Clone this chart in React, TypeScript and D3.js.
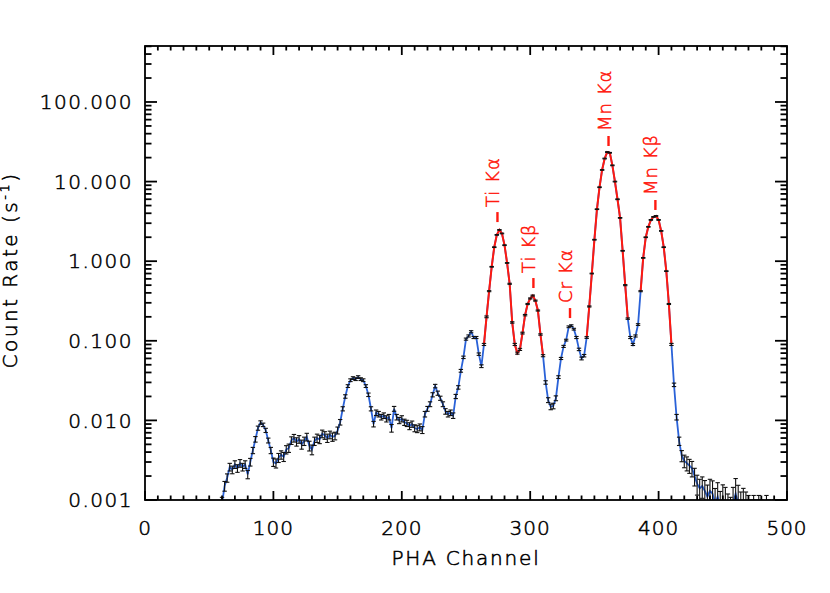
import React from "react";
import * as d3 from "d3";

// ---------- data ----------
const channelStart = 60;
const channelStep = 2;

// count rate (s^-1) per bin, channels 60..490 step 2
const rates = [
  // 60-98
  0.0009, 0.0015, 0.0019, 0.0026, 0.0024, 0.0028, 0.0025, 0.0029, 0.0026, 0.0028,
  0.0021, 0.0030, 0.0042, 0.0058, 0.0080, 0.0094, 0.0088, 0.0075, 0.0056, 0.0042,
  // 100-138
  0.0030, 0.0029, 0.0034, 0.0037, 0.0035, 0.0043, 0.0045, 0.0056, 0.0060, 0.0054,
  0.0058, 0.0050, 0.0055, 0.0062, 0.0048, 0.0043, 0.0055, 0.0060, 0.0058, 0.0068,
  // 140-178
  0.0065, 0.0060, 0.0066, 0.0062, 0.0064, 0.0075, 0.0095, 0.0140, 0.0200, 0.0270,
  0.0320, 0.0340, 0.0330, 0.0350, 0.0330, 0.0320, 0.0270, 0.0210, 0.0140, 0.0090,
  // 180-218
  0.0125, 0.0120, 0.0110, 0.0115, 0.0105, 0.0110, 0.0080, 0.0140, 0.0110, 0.0100,
  0.0105, 0.0095, 0.0092, 0.0085, 0.0090, 0.0080, 0.0078, 0.0082, 0.0076, 0.0120,
  // 220-258
  0.0140, 0.0160, 0.0210, 0.0270, 0.0220, 0.0190, 0.0160, 0.0130, 0.0120, 0.0125,
  0.0115, 0.0200, 0.0260, 0.0420, 0.0620, 0.1050, 0.1150, 0.1300, 0.1100, 0.1100,
  // 260-298
  0.0680, 0.0480, 0.0900, 0.2000, 0.4200, 0.8500, 1.5000, 2.1400, 2.4700, 2.2300,
  1.5900, 0.9500, 0.5200, 0.1700, 0.0900, 0.0700, 0.0780, 0.1250, 0.2100, 0.2900,
  // 300-338
  0.3400, 0.3700, 0.3200, 0.2400, 0.1200, 0.0650, 0.0300, 0.0180, 0.0148, 0.0152,
  0.0190, 0.0350, 0.0600, 0.0850, 0.1020, 0.1500, 0.1550, 0.1400, 0.1100, 0.0780,
  // 340-378
  0.0600, 0.0650, 0.1100, 0.2700, 0.7000, 1.8600, 4.5000, 8.5000, 14.000, 19.500,
  23.500, 23.000, 16.000, 10.000, 6.0000, 3.5000, 1.3500, 0.5000, 0.1900, 0.1100,
  // 380-418
  0.0900, 0.1150, 0.1600, 0.4200, 1.1000, 2.0000, 2.7000, 3.3000, 3.6000, 3.7000,
  3.3000, 2.4000, 1.5000, 0.7500, 0.2900, 0.0900, 0.0280, 0.0110, 0.0055, 0.0036,
  // 420-458
  0.0031, 0.0029, 0.0027, 0.0025, 0.0020, 0.0016, 0.0014, 0.0015, 0.0013, 0.0011,
  0.0013, 0.0012, 0.0009, 0.0011, 0.0008, 0.0010, 0.0009, 0.0007, 0.0006, 0.0009,
  // 460-490
  0.0012, 0.0009, 0.0007, 0.0008, 0.0007, 0.0006, 0.0005, 0.0006, 0.0005, 0.0006,
  0.0005, 0.0004, 0.0006, 0.0005, 0.0004, 0.0005,
];

// relative 1-sigma error (percent) per bin
const relErrPct = [
  20, 14, 12, 11, 11, 11, 11, 11, 11, 11, 12, 11, 9, 8, 6, 5, 5, 6, 7, 9,
  12, 13, 13, 12, 13, 12, 12, 11, 11, 12, 11, 13, 12, 11, 14, 14, 12, 12, 12, 11,
  11, 12, 11, 12, 11, 10, 8, 6, 5, 4, 4, 4, 4, 4, 4, 4, 4, 5, 6, 8,
  8, 8, 8, 8, 9, 8, 11, 7, 8, 9, 9, 9, 9, 10, 9, 10, 10, 10, 10, 8,
  7, 7, 6, 5, 6, 6, 7, 8, 8, 8, 8, 6, 5, 4, 3.5, 3, 3, 3, 3, 3,
  3.5, 4, 3, 2.5, 1.5, 1, 1, 1, 1, 1, 1, 1, 1.5, 2, 3, 3, 3, 2.5, 2, 1.5,
  1.5, 1.5, 1.5, 1.5, 2, 3, 5, 7, 8, 8, 7, 4, 3, 3, 2.5, 2.5, 2.5, 2.5, 3, 3.5,
  4, 3.5, 2.5, 1.5, 1, 1, 1, 1, 1, 1, 1, 1, 1, 1, 1, 1, 1, 1.5, 2, 3,
  3, 3, 2.5, 1.5, 1, 1, 1, 1, 1, 1, 1, 1, 1, 1, 1.5, 3, 5, 8, 12, 16,
  18, 20, 20, 22, 25, 28, 30, 30, 35, 40, 40, 45, 55, 50, 60, 55, 60, 70, 80, 60,
  55, 70, 80, 75, 80, 90, 100, 90, 100, 90, 100, 120, 90, 100, 120, 100,
];

// channel ranges covered by the (red) line model
const fitRanges = [
  [264, 310],
  [344, 376],
  [386, 410],
];

// emission line annotations
const lineNames = ["Ti K\u03b1", "Ti K\u03b2", "Cr K\u03b1", "Mn K\u03b1", "Mn K\u03b2"];
const lineChannels = [274.5, 302.5, 331, 361, 397.5];
const lineMarkRates = [3.1, 0.46, 0.193, 28, 4.4];

const xTicks = [0, 100, 200, 300, 400, 500];
const yTicks = [0.001, 0.01, 0.1, 1, 10, 100];

// ---------- layout ----------
const W = 830;
const H = 593;
const L = 145, R = 787, T = 46, B = 500;
const FONT = "'DejaVu Sans', 'Liberation Sans', sans-serif";
const RED = "#ff1a10";
const INK = "#000";
const TSW = 0.55; // text outline to darken the extra-light face

export default function App() {
  const x = d3.scaleLinear().domain([0, 500]).range([L, R]);
  const y = d3.scaleLog().domain([0.001, 505]).range([B, T]);

  const pts = rates.map((r, i) => ({
    ch: channelStart + channelStep * i,
    r,
    e: (r * relErrPct[i]) / 100,
  }));

  const line = d3
    .line<{ ch: number; r: number }>()
    .x((d) => x(d.ch))
    .y((d) => y(Math.max(d.r, 1e-5)));

  const xMinor: number[] = d3.range(0, 501, 10).filter((v) => v % 100 !== 0);
  const yMinor: number[] = [];
  [0.001, 0.01, 0.1, 1, 10, 100].forEach((dec) => {
    for (let k = 2; k <= 9; k++) {
      const v = dec * k;
      if (v <= 505) yMinor.push(v);
    }
  });

  const fmt = d3.format(".3f");
  const sw = 1.8;
  const capW = 2.2;

  return (
    <svg
      width={W}
      height={H}
      style={{ position: "absolute", left: 0, top: 0, background: "#fff" }}
      fontFamily={FONT}
      fontWeight={200}
    >
      <defs>
        <clipPath id="plotclip">
          <rect x={L} y={T} width={R - L} height={B - T} />
        </clipPath>
      </defs>

      <g clipPath="url(#plotclip)">
        {/* data line */}
        <path d={line(pts) || ""} fill="none" stroke="#2a62d8" strokeWidth={1.8} />
        {/* model */}
        {fitRanges.map(([a, b], i) => (
          <path
            key={"fit" + i}
            d={line(pts.filter((p) => p.ch >= a && p.ch <= b)) || ""}
            fill="none"
            stroke={RED}
            strokeWidth={2}
          />
        ))}
        {/* error bars */}
        {pts.map((p, i) => {
          const yt = y(p.r + p.e);
          const yb = y(Math.max(p.r - p.e, 1e-6));
          const xc = x(p.ch);
          return (
            <g key={"e" + i} stroke="#111" strokeWidth={1.1}>
              <line x1={xc} x2={xc} y1={yt} y2={yb} />
              <line x1={xc - capW} x2={xc + capW} y1={yt} y2={yt} />
              <line x1={xc - capW} x2={xc + capW} y1={yb} y2={yb} />
            </g>
          );
        })}
      </g>

      {/* annotations */}
      {lineNames.map((name, i) => {
        const xc = x(lineChannels[i]);
        const yb = y(lineMarkRates[i]);
        return (
          <g key={"ann" + i}>
            <line x1={xc} x2={xc} y1={yb} y2={yb - 10} stroke={RED} strokeWidth={2.4} />
            <text
              transform={`translate(${xc + 2},${yb - 15}) rotate(-90)`}
              fill={RED}
              stroke={RED}
              strokeWidth={TSW}
              fontSize={18}
              letterSpacing={1}
              textAnchor="start"
            >
              {name}
            </text>
          </g>
        );
      })}

      {/* frame */}
      <rect x={L} y={T} width={R - L} height={B - T} fill="none" stroke="#000" strokeWidth={sw} />

      {/* x ticks */}
      {xTicks.map((v) => (
        <g key={"xt" + v} stroke="#000" strokeWidth={sw}>
          <line x1={x(v)} x2={x(v)} y1={B} y2={B - 9} />
          <line x1={x(v)} x2={x(v)} y1={T} y2={T + 9} />
        </g>
      ))}
      {xMinor.map((v) => (
        <g key={"xm" + v} stroke="#000" strokeWidth={sw}>
          <line x1={x(v)} x2={x(v)} y1={B} y2={B - 4.5} />
          <line x1={x(v)} x2={x(v)} y1={T} y2={T + 4.5} />
        </g>
      ))}
      {/* y ticks */}
      {yTicks.map((v) => (
        <g key={"yt" + v} stroke="#000" strokeWidth={sw}>
          <line x1={L} x2={L + 12} y1={y(v)} y2={y(v)} />
          <line x1={R} x2={R - 12} y1={y(v)} y2={y(v)} />
        </g>
      ))}
      {yMinor.map((v) => (
        <g key={"ym" + v} stroke="#000" strokeWidth={sw}>
          <line x1={L} x2={L + 6.5} y1={y(v)} y2={y(v)} />
          <line x1={R} x2={R - 6.5} y1={y(v)} y2={y(v)} />
        </g>
      ))}

      <g fill={INK} stroke={INK} strokeWidth={TSW}>
        {/* tick labels */}
        {xTicks.map((v) => (
          <text
            key={"xl" + v}
            x={x(v)}
            y={535}
            fontSize={20}
            textAnchor="middle"
            letterSpacing={1}
          >
            {String(v)}
          </text>
        ))}
        {yTicks.map((v) => (
          <text
            key={"yl" + v}
            x={133}
            y={y(v)}
            dy="0.36em"
            fontSize={20}
            textAnchor="end"
            letterSpacing={1.5}
          >
            {fmt(v)}
          </text>
        ))}

        {/* axis titles */}
        <text x={(L + R) / 2} y={565} fontSize={20} textAnchor="middle" letterSpacing={1.8}>
          PHA Channel
        </text>
        <text
          transform={`translate(17,${270}) rotate(-90)`}
          fontSize={20}
          textAnchor="middle"
          letterSpacing={2.5}
        >
          Count Rate (s
          <tspan fontSize={13} dy={-8}>
            -1
          </tspan>
          <tspan dy={8}>)</tspan>
        </text>
      </g>
    </svg>
  );
}
